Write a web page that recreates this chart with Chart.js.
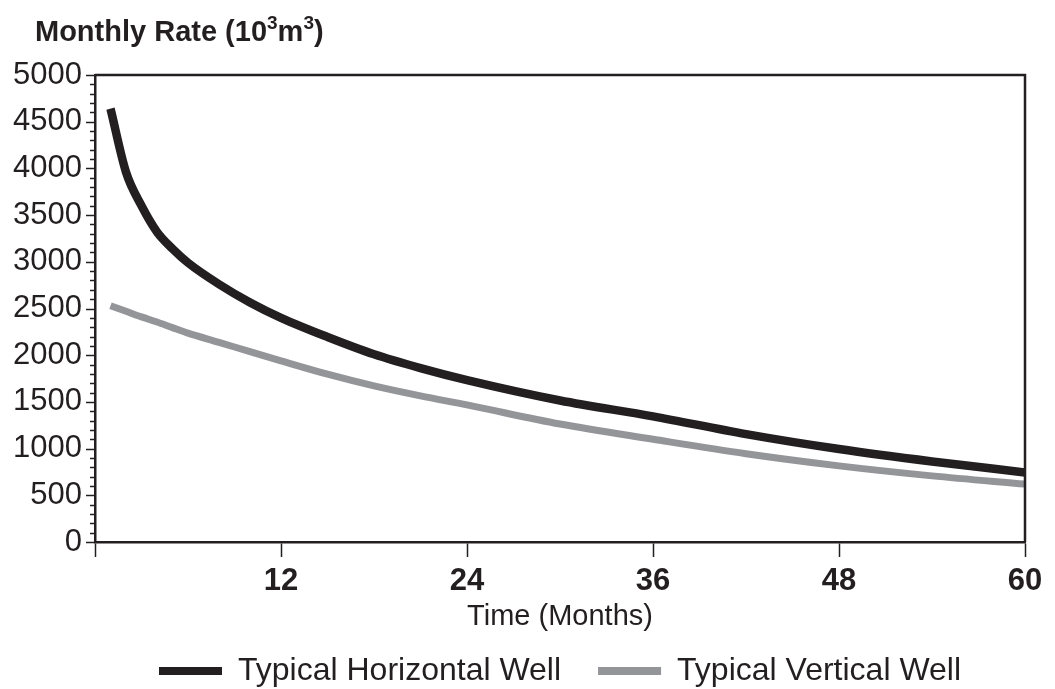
<!DOCTYPE html>
<html>
<head>
<meta charset="utf-8">
<script src="https://cdn.jsdelivr.net/npm/chart.js"></script>
<style>
  html, body { margin: 0; padding: 0; background: #fff; }
  #wrap { width: 1055px; height: 689px; }
</style>
</head>
<body>
<div id="wrap"><canvas id="myChart"></canvas></div>
<script>
// values (months, 10^3 m3 per month)
const months = [1, 2, 3, 4, 5, 6, 8, 10, 12, 15, 18, 21, 24, 30, 36, 42, 48, 54, 60];
const horizontalWell = [4640, 3960, 3600, 3320, 3140, 2990, 2760, 2565, 2400, 2195, 2010, 1862, 1733, 1515, 1345, 1155, 995, 862, 745];
const verticalWell = [2530, 2470, 2410, 2355, 2295, 2236, 2138, 2038, 1940, 1797, 1672, 1565, 1468, 1263, 1100, 945, 815, 708, 620];
const seriesNames = ['Typical Horizontal Well', 'Typical Vertical Well'];
const xTickStep = 12;
const yTickStep = 500;
const yMinorStep = 100;

const ink = '#231f20';
const grey = '#939598';
const fam = '"Liberation Sans", Arial, sans-serif';

// top/right frame, minor y ticks and the title with superscripts
const extras = {
  id: 'extras',
  afterDraw(chart) {
    const { ctx, chartArea: a } = chart;
    const y = chart.scales.y;
    ctx.save();
    ctx.strokeStyle = ink;
    ctx.lineWidth = 2.5;
    ctx.beginPath();
    ctx.moveTo(a.left, a.top);
    ctx.lineTo(a.right, a.top);
    ctx.lineTo(a.right, a.bottom);
    ctx.stroke();

    ctx.lineWidth = 1.5;
    for (let v = y.min; v <= y.max; v += yMinorStep) {
      const py = Math.round(y.getPixelForValue(v)) + 0.5;
      const len = v % yTickStep === 0 ? 9 : 5;
      ctx.beginPath();
      ctx.moveTo(a.left - len, py);
      ctx.lineTo(a.left, py);
      ctx.stroke();
    }

    // title
    ctx.fillStyle = ink;
    ctx.textBaseline = 'alphabetic';
    ctx.textAlign = 'left';
    const big = 'bold 29px ' + fam;
    const sup = 'bold 19px ' + fam;
    const parts = [['Monthly Rate (10', big, 0], ['3', sup, -12], ['m', big, 0], ['3', sup, -12], [')', big, 0]];
    let x = 35;
    for (const [t, f, dy] of parts) {
      ctx.font = f;
      ctx.fillText(t, x, 41 + dy);
      x += ctx.measureText(t).width;
    }
    ctx.restore();
  }
};

const ctx = document.getElementById('myChart').getContext('2d');
const myChart = new Chart(ctx, {
  type: 'line',
  data: {
    datasets: [
      {
        label: seriesNames[0],
        data: months.map((m, i) => ({ x: m, y: horizontalWell[i] })),
        borderColor: ink,
        backgroundColor: ink,
        borderWidth: 8.5,
        pointRadius: 0,
        cubicInterpolationMode: 'monotone'
      },
      {
        label: seriesNames[1],
        data: months.map((m, i) => ({ x: m, y: verticalWell[i] })),
        borderColor: grey,
        backgroundColor: grey,
        borderWidth: 7,
        pointRadius: 0,
        cubicInterpolationMode: 'monotone'
      }
    ]
  },
  options: {
    responsive: true,
    maintainAspectRatio: false,
    animation: false,
    layout: { padding: { left: 0, right: 30, top: 75, bottom: -8 } },
    plugins: {
      tooltip: { enabled: false },
      legend: {
        position: 'bottom',
        fullSize: false,
        labels: {
          boxWidth: 63,
          boxHeight: 8,
          padding: 37,
          color: ink,
          font: { family: fam, size: 32 },
          generateLabels: chart => chart.data.datasets.map((ds, i) => ({
            text: ds.label,
            fillStyle: ds.borderColor,
            strokeStyle: ds.borderColor,
            lineWidth: 0,
            hidden: false,
            datasetIndex: i,
            fontColor: ink
          }))
        }
      }
    },
    scales: {
      x: {
        type: 'linear',
        min: 0,
        max: 60,
        afterFit: s => { s.height = 76; },
        ticks: {
          stepSize: xTickStep,
          color: ink,
          padding: 6,
          font: { family: fam, size: 31, weight: 'bold' },
          callback: v => (v === 0 ? '' : v)
        },
        grid: { drawOnChartArea: false, drawTicks: true, tickLength: 15, tickColor: ink, tickWidth: 1.5 },
        border: { color: ink, width: 2.5 },
        title: {
          display: true,
          text: 'Time (Months)',
          color: ink,
          font: { family: fam, size: 29 },
          padding: { top: 0, bottom: -16 }
        }
      },
      y: {
        min: 0,
        max: 5000,
        afterFit: s => { s.width = 95; },
        ticks: {
          stepSize: yTickStep,
          color: ink,
          padding: 5,
          font: { family: fam, size: 31 },
          callback: v => String(v)
        },
        grid: { display: false },
        border: { color: ink, width: 2.5 }
      }
    }
  },
  plugins: [extras]
});
</script>
</body>
</html>
